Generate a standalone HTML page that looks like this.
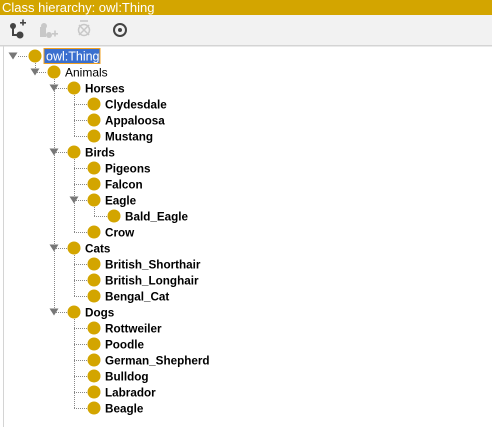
<!DOCTYPE html>
<html><head><style>
body{margin:0;width:492px;height:427px;overflow:hidden;background:#fff;font-family:"Liberation Sans",Arial,sans-serif}
</style></head><body>
<svg width="492" height="427" xmlns="http://www.w3.org/2000/svg" font-family="Liberation Sans, Arial, sans-serif">
<rect x="0" y="0" width="492" height="15" fill="#d3a500"/>
<text x="2" y="12" font-size="13" fill="#fff">Class hierarchy: owl:Thing</text>
<rect x="0" y="15" width="492" height="31" fill="#f2f2f2"/>
<rect x="0" y="45" width="492" height="1.5" fill="#d4d4d4"/>
<rect x="3" y="46" width="1" height="381" fill="#d4d4d4"/>
<!-- toolbar icons -->
<g fill="#444"><circle cx="13" cy="26" r="3"/><circle cx="20" cy="35" r="3.5"/><rect x="12" y="26" width="2" height="10"/><rect x="12" y="34" width="6" height="2"/><rect x="20" y="22" width="6" height="1.6"/><rect x="22.2" y="19.5" width="1.6" height="6"/></g>
<g fill="#c8c8c8"><circle cx="44" cy="26" r="3"/><rect x="40" y="27" width="6" height="10"/><circle cx="49" cy="35" r="3"/><rect x="52" y="33" width="6" height="1.6"/><rect x="54.2" y="30.5" width="1.6" height="6"/></g>
<g stroke="#c8c8c8" stroke-width="1.5" fill="none"><circle cx="84" cy="30" r="5.5"/><path d="M79 25L89 35M89 25L79 35"/><path d="M80 21h8"/></g>
<g stroke="#444" stroke-width="2" fill="none"><circle cx="120" cy="30" r="6"/></g><circle cx="120" cy="30" r="2" fill="#444"/>
<!-- lines -->
<g stroke="#888" stroke-width="1" stroke-dasharray="1,1" fill="none">
<path d="M18 56.5H28"/>
<path d="M35.5 63V72M35 72.5H47"/>
<path d="M54.5 79V312"/>
<path d="M54 88.5H67M54 152.5H67M54 248.5H67M54 312.5H67"/>
<path d="M74.5 95V136M74.5 159V232M74.5 255V296M74.5 319V408"/>
<path d="M74 104.5H87M74 120.5H87M74 136.5H87M74 168.5H87M74 184.5H87M74 200.5H87M74 232.5H87M74 264.5H87M74 280.5H87M74 296.5H87M74 328.5H87M74 344.5H87M74 360.5H87M74 376.5H87M74 392.5H87M74 408.5H87"/>
<path d="M94.5 207V216M94 216.5H107"/>
</g>
<!-- triangles -->
<g fill="#777">
<path d="M8.5 52.5h9l-4.5 7z"/>
<path d="M30.5 68.5h9l-4.5 7z"/>
<path d="M49.5 84.5h9l-4.5 7z"/>
<path d="M49.5 148.5h9l-4.5 7z"/>
<path d="M49.5 244.5h9l-4.5 7z"/>
<path d="M49.5 308.5h9l-4.5 7z"/>
<path d="M69.5 196.5h9l-4.5 7z"/>
</g>
<!-- circles -->
<g fill="#d3a500">
<circle cx="35" cy="56" r="6.5"/><circle cx="54" cy="72" r="6.5"/>
<circle cx="74" cy="88" r="6.5"/><circle cx="74" cy="152" r="6.5"/><circle cx="74" cy="248" r="6.5"/><circle cx="74" cy="312" r="6.5"/>
<circle cx="94" cy="104" r="6.5"/><circle cx="94" cy="120" r="6.5"/><circle cx="94" cy="136" r="6.5"/>
<circle cx="94" cy="168" r="6.5"/><circle cx="94" cy="184" r="6.5"/><circle cx="94" cy="200" r="6.5"/><circle cx="94" cy="232" r="6.5"/>
<circle cx="114" cy="216" r="6.5"/>
<circle cx="94" cy="264" r="6.5"/><circle cx="94" cy="280" r="6.5"/><circle cx="94" cy="296" r="6.5"/>
<circle cx="94" cy="328" r="6.5"/><circle cx="94" cy="344" r="6.5"/><circle cx="94" cy="360" r="6.5"/><circle cx="94" cy="376" r="6.5"/><circle cx="94" cy="392" r="6.5"/><circle cx="94" cy="408" r="6.5"/>
</g>
<rect x="44" y="48.5" width="56" height="15" fill="#3a6fcf" stroke="#f0a020" stroke-width="1"/>
<text x="46" y="60.5" font-size="12.5" fill="#fff">owl:Thing</text>
<text x="65" y="76.5" font-size="12" fill="#000">Animals</text>
<g font-size="11.7" font-weight="bold" fill="#000">
<text x="85" y="92.5">Horses</text>
<text x="105" y="108.5">Clydesdale</text>
<text x="105" y="124.5">Appaloosa</text>
<text x="105" y="140.5">Mustang</text>
<text x="85" y="156.5">Birds</text>
<text x="105" y="172.5">Pigeons</text>
<text x="105" y="188.5">Falcon</text>
<text x="105" y="204.5">Eagle</text>
<text x="125" y="220.5">Bald_Eagle</text>
<text x="105" y="236.5">Crow</text>
<text x="85" y="252.5">Cats</text>
<text x="105" y="268.5">British_Shorthair</text>
<text x="105" y="284.5">British_Longhair</text>
<text x="105" y="300.5">Bengal_Cat</text>
<text x="85" y="316.5">Dogs</text>
<text x="105" y="332.5">Rottweiler</text>
<text x="105" y="348.5">Poodle</text>
<text x="105" y="364.5">German_Shepherd</text>
<text x="105" y="380.5">Bulldog</text>
<text x="105" y="396.5">Labrador</text>
<text x="105" y="412.5">Beagle</text>
</g>
</svg>
</body></html>
